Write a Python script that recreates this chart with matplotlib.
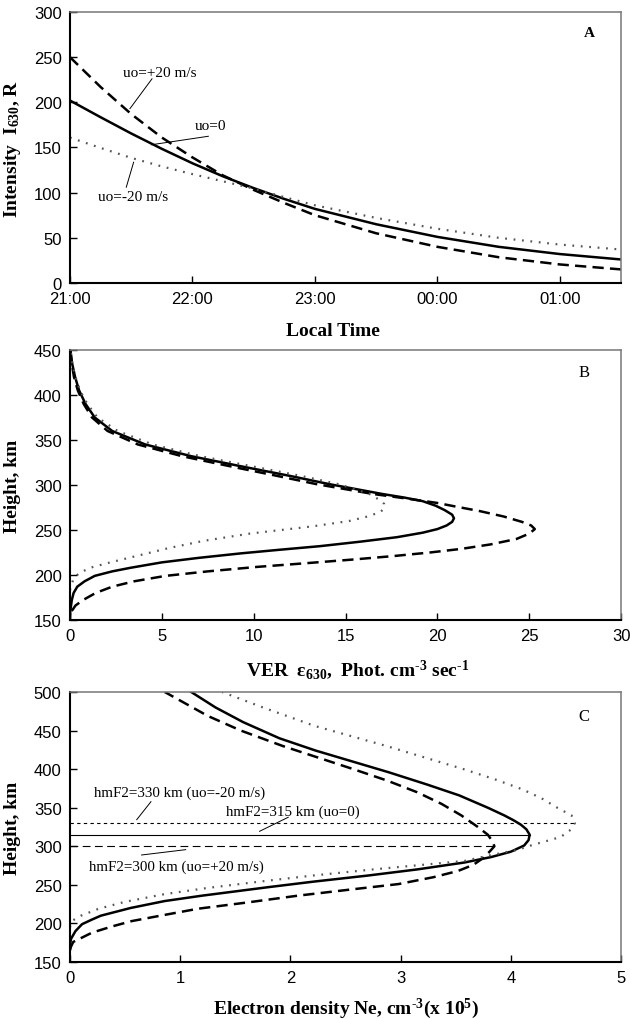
import matplotlib
matplotlib.use("Agg")
import matplotlib.pyplot as plt

plt.rcParams['mathtext.default'] = 'regular'

# ---- Panel A: 630 nm intensity vs local time (hours after 21:00 -> 21..25.5)
hora = [21.0, 21.25, 21.5, 21.75, 22.0, 22.25, 22.5, 22.75, 23.0, 23.5, 24.0, 24.5, 25.0, 25.5]
int_u0 = [202, 183.5, 165.5, 148.5, 132.5, 118, 105, 93, 82, 65, 51, 40, 32, 26]
int_mas20 = [250, 217, 187, 161, 139, 119, 103, 88.5, 75, 55, 40, 28.5, 20.5, 15]
int_menos20 = [161, 149.5, 138.5, 129, 120.5, 112.5, 104.5, 95, 86, 72, 60, 50, 42.5, 37]
ticks_hora = [21, 22, 23, 24, 25]
etiquetas_hora = ["21:00", "22:00", "23:00", "00:00", "01:00"]

# ---- Panel B: volume emission rate profiles
alt_ver_u0 = [150, 160, 172, 180, 187, 193, 199, 204, 208, 214, 219, 224, 228, 232, 237, 242,
              247, 251, 255, 259, 263, 267, 272, 277, 282, 286, 290, 301, 310, 320, 332, 345,
              360, 375, 390, 405, 420, 435, 450]
ver_u0 = [0, 0.02, 0.1, 0.2, 0.4, 0.8, 1.35, 2.3, 3.3, 5.0, 7.0, 9.3, 11.4, 13.6, 15.8, 17.8,
          19.2, 20.0, 20.5, 20.8, 20.9, 20.8, 20.4, 19.9, 19.2, 18.2, 17.0, 14.1, 12.0, 9.5, 6.6, 4.1,
          2.3, 1.35, 0.85, 0.5, 0.28, 0.12, 0.02]
alt_ver_mas20 = [160, 166, 172, 180, 187, 193, 199, 204, 209, 213, 217, 221, 225, 229, 234, 240,
                 246, 251, 255, 259, 265, 271, 276, 280, 285, 290, 301, 310, 320, 332, 345, 360,
                 375, 390, 405, 420, 435, 450]
ver_mas20 = [0.1, 0.3, 0.7, 1.4, 2.3, 3.5, 5.2, 7.5, 10.2, 12.8, 15.3, 17.6, 19.6, 21.3, 22.9, 24.3,
             25.0, 25.3, 25.1, 24.6, 23.6, 22.3, 21.0, 20.0, 18.3, 16.5, 13.4, 11.3, 8.9, 6.1, 3.7, 2.05,
             1.2, 0.75, 0.43, 0.22, 0.1, 0.02]
alt_ver_menos20 = [183, 190, 196, 202, 208, 214, 222, 230, 238, 246, 254, 260, 265, 270, 274, 279,
                   284, 290, 296, 301, 310, 320, 332, 345, 360, 375, 390, 405, 420, 435, 450]
ver_menos20 = [0, 0.1, 0.2, 0.5, 1.1, 2.2, 3.8, 5.4, 7.3, 9.8, 13.2, 15.2, 16.2, 16.9, 17.1, 17.1,
               16.8, 16.3, 15.4, 14.6, 12.6, 10.1, 7.1, 4.5, 2.6, 1.5, 0.95, 0.55, 0.3, 0.13, 0.03]

# ---- Panel C: electron density profiles (x 1e5 cm^-3)
alt_ne_u0 = [172, 180, 190, 199, 205, 210, 220, 229, 236, 247, 254, 262, 270, 279, 286, 293,
             301, 308, 315, 322, 328, 334, 340, 350, 366, 380, 396, 410, 424, 440, 461, 480, 500]
ne_u0 = [0, 0.01, 0.05, 0.11, 0.2, 0.28, 0.55, 0.86, 1.2, 1.8, 2.2, 2.7, 3.15, 3.58, 3.82, 4.0,
         4.12, 4.16, 4.17, 4.14, 4.09, 4.02, 3.94, 3.79, 3.53, 3.24, 2.89, 2.56, 2.23, 1.9, 1.57, 1.32, 1.1]
alt_ne_mas20 = [165, 170, 176, 188, 196, 203, 210, 219, 227, 236, 244, 251, 260, 268, 276, 284,
                292, 300, 307, 315, 325, 340, 355, 370, 385, 400, 415, 430, 450, 469, 500]
ne_mas20 = [0, 0.01, 0.03, 0.2, 0.38, 0.56, 0.82, 1.16, 1.6, 2.07, 2.55, 2.98, 3.3, 3.52, 3.66, 3.74,
            3.8, 3.85, 3.83, 3.79, 3.7, 3.55, 3.37, 3.15, 2.88, 2.57, 2.25, 1.93, 1.55, 1.25, 0.86]
alt_ne_menos20 = [195, 203, 210, 219, 228, 238, 246, 255, 262, 270, 281, 288, 295, 301, 312, 320,
                  330, 340, 350, 362, 374, 387, 400, 415, 430, 456, 480, 500]
ne_menos20 = [0, 0.015, 0.1, 0.26, 0.5, 0.86, 1.25, 1.77, 2.2, 2.75, 3.58, 3.8, 4.05, 4.18, 4.45, 4.53,
              4.58, 4.55, 4.42, 4.28, 4.1, 3.85, 3.57, 3.22, 2.87, 2.22, 1.75, 1.38]
hmf2 = [330, 315, 300]
nmf2 = [4.58, 4.17, 3.85]

serif = ['Liberation Serif', 'DejaVu Serif']
sans = ['Liberation Sans Narrow', 'Liberation Sans', 'DejaVu Sans']

estilo_u0 = dict(color='black', lw=1.8, ls='-')
estilo_mas20 = dict(color='black', lw=1.8, ls=(0, (4.5, 2.5)))
estilo_menos20 = dict(color='#555555', lw=1.6, ls=(0, (0.8, 3.0)))

fig = plt.figure(figsize=(6.3, 10.2), dpi=100)
axA = fig.add_axes([0.111, 0.7216, 0.875, 0.2657])
axB = fig.add_axes([0.111, 0.3912, 0.875, 0.2647])
axC = fig.add_axes([0.111, 0.0559, 0.875, 0.2647])


def formato(ax):
    for lado in ['left', 'bottom']:
        ax.spines[lado].set_color('black')
        ax.spines[lado].set_linewidth(1.5)
    for lado in ['top', 'right']:
        ax.spines[lado].set_color('#777777')
        ax.spines[lado].set_linewidth(1.1)
    ax.tick_params(direction='in', length=5, width=1, top=False, right=False, pad=6)
    for t in ax.get_xticklabels() + ax.get_yticklabels():
        t.set_family(sans)
        t.set_fontsize(12)


# A
axA.plot(hora, int_mas20, **estilo_mas20)
axA.plot(hora, int_u0, **estilo_u0)
axA.plot(hora, int_menos20, **estilo_menos20)
axA.set_xlim(21, 25.5)
axA.set_ylim(0, 300)
axA.set_xticks(ticks_hora)
axA.set_xticklabels(etiquetas_hora)
axA.set_yticks(range(0, 301, 50))
formato(axA)
axA.set_xlabel("Local Time", family=serif, fontweight='bold', fontsize=14)
axA.set_ylabel("Intensity  I$_{630}$, R", family=serif, fontweight='bold', fontsize=14)
axA.xaxis.set_label_coords(0.477, -0.145)
axA.yaxis.set_label_coords(-0.086, 0.5)
axA.text(0.942, 0.926, "A", transform=axA.transAxes, family=serif, fontweight='bold',
         fontsize=11, ha='center', va='center')
axA.plot([21.67, 21.49], [226, 193], color='black', lw=0.7)
axA.text(21.43, 233, "uo=+20 m/s", family=serif, fontsize=11, ha='left', va='center')
axA.plot([21.665, 22.13], [153, 162.4], color='black', lw=0.7)
axA.text(22.02, 174, "uo=0", family=serif, fontsize=11, ha='left', va='center')
axA.plot([21.46, 21.52], [106, 133.7], color='black', lw=0.7)
axA.text(21.23, 96, "uo=-20 m/s", family=serif, fontsize=11, ha='left', va='center')

# B
axB.plot(ver_mas20, alt_ver_mas20, **estilo_mas20)
axB.plot(ver_u0, alt_ver_u0, **estilo_u0)
axB.plot(ver_menos20, alt_ver_menos20, **estilo_menos20)
axB.set_xlim(0, 30)
axB.set_ylim(150, 450)
axB.set_xticks(range(0, 31, 5))
axB.set_yticks(range(150, 451, 50))
formato(axB)
axB.set_xlabel("VER  ε$_{630}$,  Phot. cm$^{\u2010 3}$ sec$^{\u2010 1}$", family=serif,
               fontweight='bold', fontsize=14)
axB.set_ylabel("Height, km", family=serif, fontweight='bold', fontsize=14)
axB.xaxis.set_label_coords(0.521, -0.137)
axB.yaxis.set_label_coords(-0.088, 0.5)
axB.text(0.933, 0.918, "B", transform=axB.transAxes, family=serif, fontsize=12,
         ha='center', va='center')

# C
axC.plot(ne_mas20, alt_ne_mas20, **estilo_mas20)
axC.plot(ne_u0, alt_ne_u0, **estilo_u0)
axC.plot(ne_menos20, alt_ne_menos20, **estilo_menos20)
axC.plot([0, nmf2[0]], [hmf2[0], hmf2[0]], color='black', lw=0.8, ls=(0, (3, 3)))
axC.plot([0, nmf2[1]], [hmf2[1], hmf2[1]], color='black', lw=0.8, ls='-')
axC.plot([0, nmf2[2]], [hmf2[2], hmf2[2]], color='black', lw=0.8, ls=(0, (7, 4)))
axC.set_xlim(0, 5)
axC.set_ylim(150, 500)
axC.set_xticks(range(0, 6))
axC.set_yticks(range(150, 501, 50))
formato(axC)
axC.set_xlabel("Electron density Ne, cm$^{\u2010 3}$(x 10$^{5}$)", family=serif,
               fontweight='bold', fontsize=14)
axC.set_ylabel("Height, km", family=serif, fontweight='bold', fontsize=14)
axC.xaxis.set_label_coords(0.5, -0.125)
axC.yaxis.set_label_coords(-0.088, 0.5)
axC.text(0.933, 0.912, "C", transform=axC.transAxes, family=serif, fontsize=12,
         ha='center', va='center')
axC.plot([0.735, 0.606], [357.8, 334.5], color='black', lw=0.7)
axC.text(0.22, 370, "hmF2=330 km (uo=-20 m/s)", family=serif, fontsize=10.8, ha='left', va='center')
axC.plot([1.98, 1.72], [337.6, 319.4], color='black', lw=0.7)
axC.text(1.42, 345, "hmF2=315 km (uo=0)", family=serif, fontsize=10.8, ha='left', va='center')
axC.plot([0.65, 1.05], [288.7, 295.6], color='black', lw=0.7)
axC.text(0.17, 274.4, "hmF2=300 km (uo=+20 m/s)", family=serif, fontsize=10.8, ha='left', va='center')

fig.savefig("out.png", dpi=100)
